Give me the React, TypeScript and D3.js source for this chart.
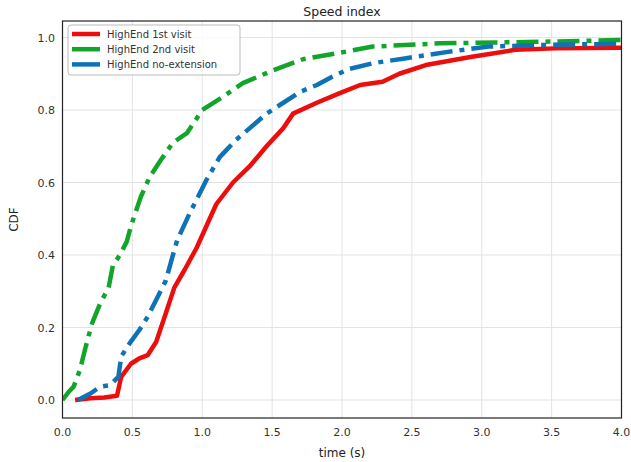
import React from "react";
import * as d3 from "d3";

const W = 631;
const H = 462;

const xTicks = [0, 0.5, 1.0, 1.5, 2.0, 2.5, 3.0, 3.5, 4.0];
const yTicks = [0, 0.2, 0.4, 0.6, 0.8, 1.0];

const seriesNames = ["HighEnd 1st visit", "HighEnd 2nd visit", "HighEnd no-extension"];
const seriesColors = ["#ec0d0d", "#13a52b", "#0e72b6"];

const firstVisitX = [0.09, 0.2, 0.3, 0.39, 0.42, 0.49, 0.55, 0.61, 0.67, 0.74, 0.8, 0.875, 0.96, 1.03, 1.1, 1.22, 1.34, 1.46, 1.58, 1.65, 1.82, 1.98, 2.13, 2.29, 2.41, 2.6, 2.93, 3.24, 3.53, 4.0];
const firstVisitY = [0.0, 0.005, 0.007, 0.012, 0.064, 0.1, 0.115, 0.124, 0.16, 0.24, 0.31, 0.36, 0.42, 0.48, 0.54, 0.6, 0.645, 0.7, 0.75, 0.79, 0.82, 0.846, 0.869, 0.878, 0.9, 0.924, 0.947, 0.966, 0.97, 0.972];

const secondVisitX = [0.0, 0.05, 0.08, 0.125, 0.16, 0.21, 0.27, 0.33, 0.36, 0.41, 0.46, 0.49, 0.56, 0.625, 0.7, 0.79, 0.89, 1.0, 1.15, 1.29, 1.51, 1.72, 1.96, 2.22, 2.7, 3.41, 4.0];
const secondVisitY = [0.0, 0.025, 0.037, 0.083, 0.138, 0.21, 0.267, 0.31, 0.37, 0.4, 0.437, 0.48, 0.56, 0.616, 0.66, 0.71, 0.736, 0.8, 0.837, 0.874, 0.91, 0.94, 0.956, 0.975, 0.984, 0.988, 0.993];

const noExtX = [0.11, 0.2, 0.27, 0.34, 0.4, 0.42, 0.48, 0.55, 0.61, 0.67, 0.74, 0.78, 0.82, 0.91, 1.03, 1.125, 1.24, 1.34, 1.46, 1.58, 1.7, 1.82, 1.93, 2.05, 2.22, 2.46, 2.77, 3.05, 3.41, 4.0];
const noExtY = [0.0, 0.018, 0.037, 0.041, 0.064, 0.12, 0.156, 0.193, 0.23, 0.276, 0.33, 0.386, 0.44, 0.515, 0.607, 0.67, 0.717, 0.75, 0.79, 0.82, 0.85, 0.869, 0.892, 0.913, 0.929, 0.943, 0.961, 0.975, 0.979, 0.983];

const seriesX = [firstVisitX, secondVisitX, noExtX];
const seriesY = [firstVisitY, secondVisitY, noExtY];
const seriesDash = [null, "22,7,5,7", "22,7,5,7"];

export default function App() {
  const left = 62.5;
  const right = 621.5;
  const top = 21;
  const bottom = 418;
  const x = d3.scaleLinear().domain([0, 4]).range([left, right]);
  const y = d3.scaleLinear().domain([0, 1]).range([400, 37.5]);

  const font = "DejaVu Sans, sans-serif";
  const lineGen = d3
    .line<[number, number]>()
    .x((d) => x(d[0]))
    .y((d) => y(d[1]));

  return (
    <svg
      width={W}
      height={H}
      style={{ position: "absolute", left: 0, top: 0, background: "#fff" }}
      fontFamily={font}
    >
      <defs>
        <clipPath id="plotclip">
          <rect x={left} y={top} width={right - left} height={bottom - top} />
        </clipPath>
      </defs>
      <rect x={0} y={0} width={W} height={H} fill="#fff" />
      {/* grid */}
      {xTicks.map((t) => (
        <line key={"gx" + t} x1={x(t)} x2={x(t)} y1={top} y2={bottom} stroke="#e3e3e3" strokeWidth={1} />
      ))}
      {yTicks.map((t) => (
        <line key={"gy" + t} x1={left} x2={right} y1={y(t)} y2={y(t)} stroke="#e3e3e3" strokeWidth={1} />
      ))}
      {/* series */}
      <g clipPath="url(#plotclip)">
        {seriesX.map((xs, i) => {
          const pts: [number, number][] = xs.map((v, j) => [v, seriesY[i][j]]);
          return (
            <path
              key={"s" + i}
              d={lineGen(pts) || ""}
              fill="none"
              stroke={seriesColors[i]}
              strokeWidth={4.5}
              strokeDasharray={seriesDash[i] || undefined}
              strokeLinejoin="round"
            />
          );
        })}
      </g>
      {/* frame */}
      <rect x={left} y={top} width={right - left} height={bottom - top} fill="none" stroke="#222" strokeWidth={1.2} />
      {/* tick labels */}
      {xTicks.map((t) => (
        <text key={"tx" + t} x={x(t)} y={436} textAnchor="middle" fontSize={11} fill="#333">
          {t.toFixed(1)}
        </text>
      ))}
      {yTicks.map((t) => (
        <text key={"ty" + t} x={55} y={y(t) + 4} textAnchor="end" fontSize={11} fill="#333">
          {t.toFixed(1)}
        </text>
      ))}
      <text x={(left + right) / 2} y={457} textAnchor="middle" fontSize={12} fill="#222">
        time (s)
      </text>
      <text transform={`translate(18, ${(top + bottom) / 2}) rotate(-90)`} textAnchor="middle" fontSize={12} fill="#222">
        CDF
      </text>
      <text x={(left + right) / 2} y={16} textAnchor="middle" fontSize={12.5} fill="#222">
        Speed index
      </text>
      {/* legend */}
      <g>
        <rect x={68} y={25} width={172} height={50} rx={3} fill="#fff" fillOpacity={0.85} stroke="#bbb" strokeWidth={1} />
        {seriesNames.map((n, i) => {
          const ly = 34 + i * 15.2;
          return (
            <g key={"lg" + i}>
              <line x1={72} x2={100} y1={ly} y2={ly} stroke={seriesColors[i]} strokeWidth={4.5} />
              <text x={107} y={ly + 3.5} fontSize={10} fill="#333">
                {n}
              </text>
            </g>
          );
        })}
      </g>
    </svg>
  );
}
